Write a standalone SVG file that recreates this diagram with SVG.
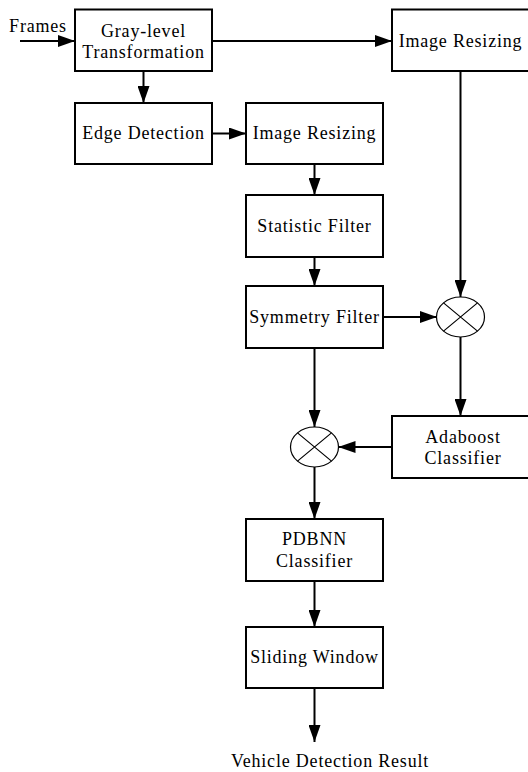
<svg xmlns="http://www.w3.org/2000/svg" width="528" height="772" viewBox="0 0 528 772">
<style>
.box{fill:#fff;stroke:#000;stroke-width:2}
.op{fill:#fff;stroke:#000;stroke-width:1.2}
.t{font-family:"Liberation Serif","Times New Roman",serif;font-size:18px;letter-spacing:0.8px;fill:#000;text-anchor:middle}
.c{fill:none;stroke:#000;stroke-width:2}
</style>
<defs>
<marker id="ah" markerUnits="userSpaceOnUse" markerWidth="17" markerHeight="12" refX="17" refY="6" orient="auto">
<path d="M0,0 L17,6 L0,12 Z" fill="#000"/>
</marker>
</defs>
<rect width="528" height="772" fill="#fff"/>
<g id="connectors">
<line class="c" x1="20" y1="41" x2="75" y2="41" marker-end="url(#ah)"/>
<line class="c" x1="212" y1="41" x2="392" y2="41" marker-end="url(#ah)"/>
<line class="c" x1="143.5" y1="71" x2="143.5" y2="103" marker-end="url(#ah)"/>
<line class="c" x1="212" y1="133.5" x2="246" y2="133.5" marker-end="url(#ah)"/>
<line class="c" x1="314.5" y1="164" x2="314.5" y2="195" marker-end="url(#ah)"/>
<line class="c" x1="314.5" y1="257" x2="314.5" y2="286" marker-end="url(#ah)"/>
<line class="c" x1="383" y1="317" x2="437" y2="317" marker-end="url(#ah)"/>
<line class="c" x1="460.5" y1="71" x2="460.5" y2="297" marker-end="url(#ah)"/>
<line class="c" x1="460.5" y1="337" x2="460.5" y2="416" marker-end="url(#ah)"/>
<line class="c" x1="392" y1="447" x2="338.5" y2="447" marker-end="url(#ah)"/>
<line class="c" x1="314.5" y1="348" x2="314.5" y2="427" marker-end="url(#ah)"/>
<line class="c" x1="314.5" y1="467" x2="314.5" y2="519" marker-end="url(#ah)"/>
<line class="c" x1="314.5" y1="581" x2="314.5" y2="627" marker-end="url(#ah)"/>
<line class="c" x1="314.5" y1="688" x2="314.5" y2="742" marker-end="url(#ah)"/>
</g>
<g id="frames-label"><text class="t" x="38" y="32">Frames</text></g>
<g id="gray"><rect class="box" x="75" y="9.5" width="137" height="61.5"/><text class="t" x="143.5" y="37">Gray-level</text><text class="t" x="143.5" y="58">Transformation</text></g>
<g id="resize1"><rect class="box" x="392" y="9.5" width="140" height="61.5"/><text class="t" x="460.5" y="47">Image Resizing</text></g>
<g id="edge"><rect class="box" x="75" y="103" width="137" height="61"/><text class="t" x="143.5" y="139">Edge Detection</text></g>
<g id="resize2"><rect class="box" x="246" y="103" width="137" height="61"/><text class="t" x="314.5" y="139">Image Resizing</text></g>
<g id="statistic"><rect class="box" x="246" y="195" width="137" height="62"/><text class="t" x="314.5" y="232">Statistic Filter</text></g>
<g id="symmetry"><rect class="box" x="246" y="286" width="137" height="62"/><text class="t" x="314.5" y="323">Symmetry Filter</text></g>
<g id="mult1"><ellipse class="op" cx="460.5" cy="317" rx="24" ry="20"/><path class="op" d="M443.5,302.9 L477.5,331.1 M477.5,302.9 L443.5,331.1"/></g>
<g id="adaboost"><rect class="box" x="392" y="416" width="140" height="62"/><text class="t" x="463" y="443">Adaboost</text><text class="t" x="463" y="464">Classifier</text></g>
<g id="mult2"><ellipse class="op" cx="314.5" cy="447" rx="24" ry="20"/><path class="op" d="M297.5,432.9 L331.5,461.1 M331.5,432.9 L297.5,461.1"/></g>
<g id="pdbnn"><rect class="box" x="246" y="519" width="137" height="62"/><text class="t" x="314.5" y="545">PDBNN</text><text class="t" x="314.5" y="567">Classifier</text></g>
<g id="sliding"><rect class="box" x="246" y="627" width="137" height="61"/><text class="t" x="314.5" y="663">Sliding Window</text></g>
<g id="result"><text class="t" x="330" y="767">Vehicle Detection Result</text></g>
</svg>
